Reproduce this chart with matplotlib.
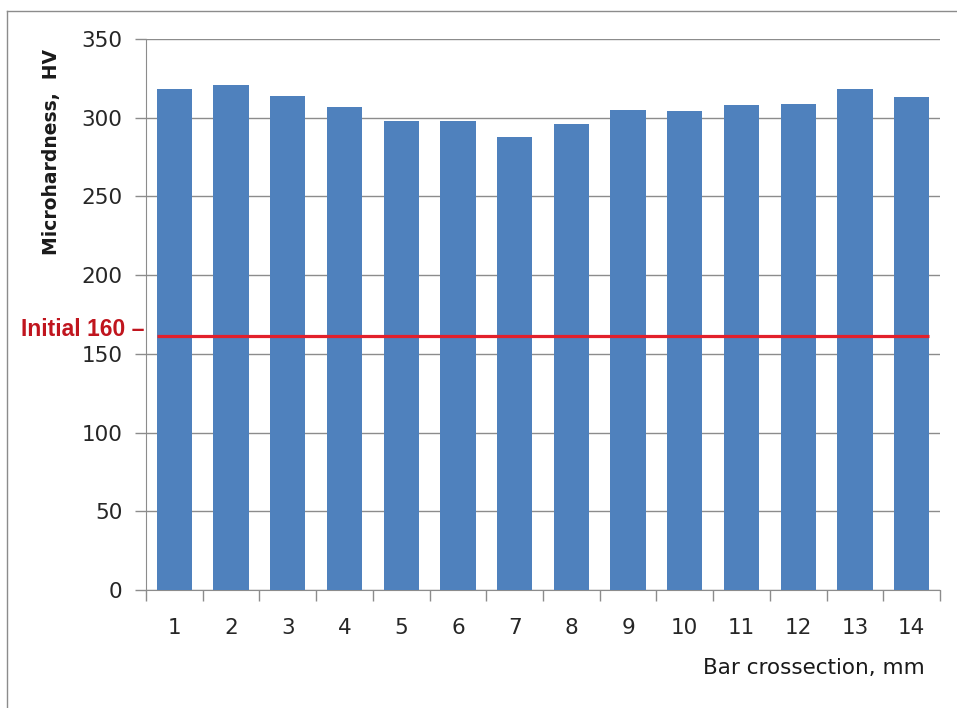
import matplotlib
matplotlib.use("Agg")
import matplotlib.pyplot as plt
from matplotlib.lines import Line2D

categories = ["1", "2", "3", "4", "5", "6", "7", "8", "9", "10", "11", "12", "13", "14"]
hardness = [318, 321, 314, 307, 298, 298, 288, 296, 305, 304, 308, 309, 318, 313]
initial_value = 161.5
initial_label = "Initial 160 \u2013"
y_ticks = [0, 50, 100, 150, 200, 250, 300, 350]

plt.rcParams['font.family'] = ['DejaVu Sans']

fig = plt.figure(figsize=(9.57, 7.08), dpi=100)
ax = fig.add_axes([146/957, 1-590/708, (940-146)/957, (590-39)/708])

x = list(range(len(categories)))
ax.bar(x, hardness, width=0.62, color="#4F81BD", zorder=3)
ax.set_xlim(-0.5, len(categories)-0.5)
ax.set_ylim(0, 350)
ax.set_yticks(y_ticks)
ax.set_xticks(x)
ax.set_xticklabels(categories)
ax.set_xticks([i-0.5 for i in range(len(categories)+1)], minor=True)

ax.yaxis.grid(True, color="#8c8c8c", linewidth=1.0, zorder=0)
ax.spines['top'].set_visible(False)
ax.spines['right'].set_visible(False)
ax.spines['left'].set_color("#8c8c8c")
ax.spines['bottom'].set_color("#8c8c8c")

ax.tick_params(axis='x', which='major', length=0, pad=20, labelsize=15.5, labelcolor="#262626")
ax.tick_params(axis='x', which='minor', length=8, width=1, color="#8c8c8c", direction='out')
ax.tick_params(axis='y', length=8, width=1, color="#8c8c8c", direction='out', pad=9,
               labelsize=15.5, labelcolor="#262626")

# red reference line spanning the bars
ax.plot([x[0]-0.31, x[-1]+0.31], [initial_value, initial_value], color="#E3202B",
        linewidth=2.3, zorder=4, solid_capstyle='butt')

ax.text(-0.002, initial_value + 4, initial_label, transform=ax.get_yaxis_transform(),
        ha='right', va='center', color="#C0151E", fontsize=16.5, fontweight='bold',
        family=['Liberation Sans', 'DejaVu Sans'])

fig.text(52/957, 1-152/708, "Microhardness,  HV", rotation=90, ha='center', va='center',
         fontsize=13.5, fontweight='bold', color="#1a1a1a")
fig.text(925/957, 1-668/708, "Bar crossection, mm", ha='right', va='center',
         fontsize=15.5, color="#1a1a1a")

# figure frame (top and left visible)
fig.add_artist(Line2D([7/957, 7/957], [0, 1-11/708], transform=fig.transFigure,
                      color="#8c8c8c", linewidth=1.0))
fig.add_artist(Line2D([7/957, 1], [1-11/708, 1-11/708], transform=fig.transFigure,
                      color="#8c8c8c", linewidth=1.0))

fig.savefig("out.png", dpi=100)
